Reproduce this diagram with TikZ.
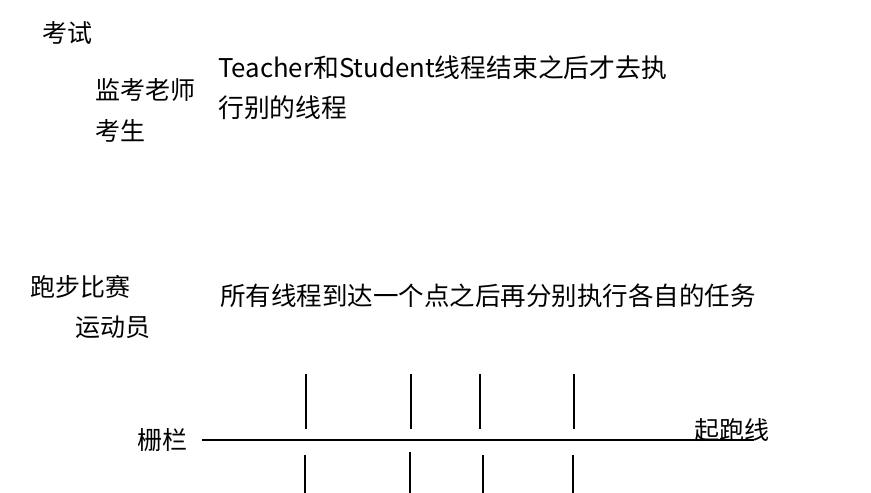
\documentclass[tikz,border=0pt]{standalone}
\usepackage{fontspec}
\setmainfont{Noto Sans CJK SC}
\begin{document}
\begin{tikzpicture}[x=1pt,y=-1pt,
  lbl/.style={anchor=west,inner sep=0pt,font=\fontsize{25}{30}\selectfont,text=black},
  big/.style={lbl,font=\fontsize{25.5}{30}\selectfont},
  wide/.style={lbl,font=\fontsize{25.8}{30}\selectfont},
  bar/.style={line width=2.2pt,black}]
\useasboundingbox[fill=white] (0,0) rectangle (871,493);
\node[lbl] (exam) at (42,33) {考试};
\node[lbl] (teacher) at (95,90) {监考老师};
\node[lbl] (student) at (95,131) {考生};
\node[wide] (desc1) at (218,68) {Teacher和Student线程结束之后才去执};
\node[wide] (desc1b) at (218,108) {行别的线程};
\node[lbl] (race) at (30,287) {跑步比赛};
\node[lbl] (athlete) at (75,327) {运动员};
\node[big] (desc2) at (220,296) {所有线程到达一个点之后再分别执行各自的任务};
\node[lbl] (fence) at (137,440) {栅栏};
\node[lbl] (start) at (694,430) {起跑线};
\coordinate (l0) at (202,440);
\coordinate (l1) at (754,440);
\draw[bar] (l0) -- (l1);
\foreach \x in {306,411,480,574}{\draw[bar] (\x,374) -- (\x,429);}
\draw[bar] (305,455) -- (305,493);
\draw[bar] (410,452) -- (410,493);
\draw[bar] (483,455) -- (483,493);
\draw[bar] (573,455) -- (573,493);
\end{tikzpicture}
\end{document}
